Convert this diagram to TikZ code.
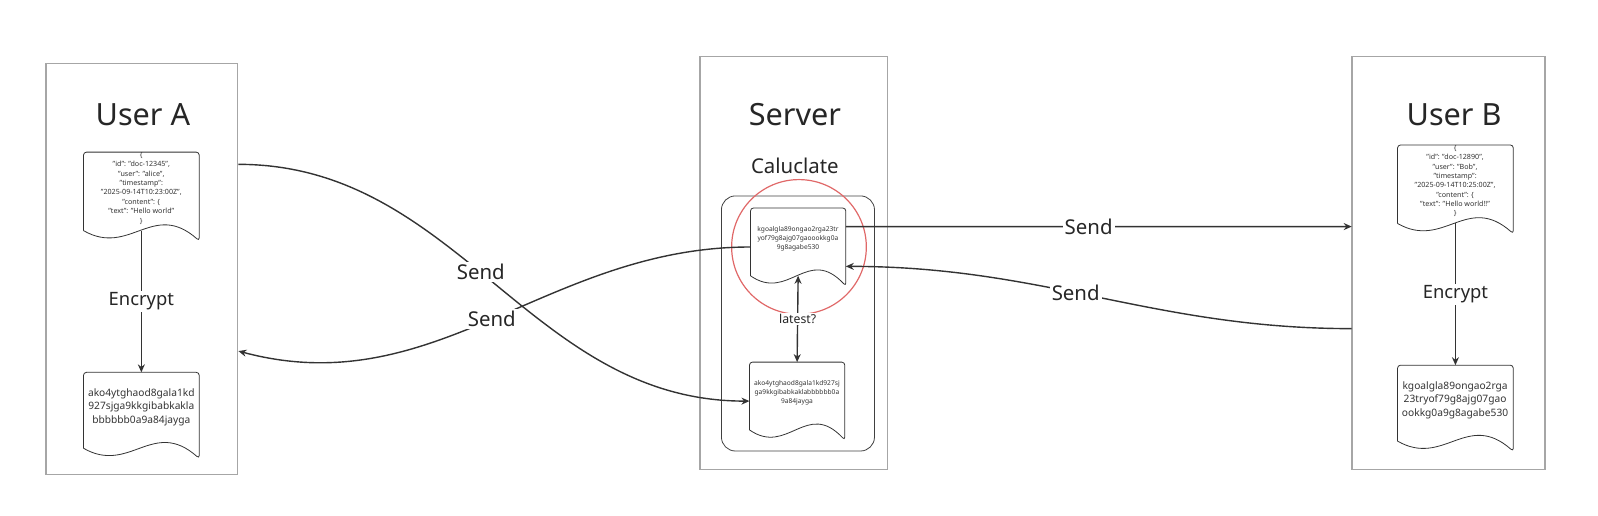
\documentclass[tikz,border=0pt]{standalone}
\usepackage{fontspec}
\setmainfont{Noto Sans}
\usetikzlibrary{calc,arrows.meta}
\definecolor{ringred}{RGB}{224,104,104}

\begin{document}
\begin{tikzpicture}[x=1pt,y=-1pt,
    >={Stealth[length=8pt,width=7pt]},
    panel/.style={draw=black!35, line width=1.2pt, minimum height=405pt},
    title/.style={font=\fontsize{30}{36}\selectfont, text=black!85},
    doc/.style={inner sep=0pt, align=center, text=black!80},
    json/.style={doc, font=\fontsize{7}{9.2}\selectfont, minimum width=113pt, minimum height=69pt},
    code/.style={doc, font=\fontsize{10}{13.3}\selectfont, minimum width=113pt, minimum height=68pt},
    small/.style={doc, font=\fontsize{6.5}{9}\selectfont, minimum width=93pt, minimum height=60pt},
    docline/.style={draw=black!80, line width=0.8pt},
    flow/.style={draw=black!80, line width=1.4pt, ->},
    lbl/.style={fill=white, inner sep=2pt, font=\fontsize{20}{24}\selectfont, text=black!85}]
\useasboundingbox (0,0) rectangle (1598,516);
\begin{scope}[scale=1.0204, transform shape]
\node[panel, minimum width=188pt, minimum height=403pt] (ua) at (139,263.5) {};
\node[panel, minimum width=184pt] (srv) at (778,257.5) {};
\node[panel, minimum width=189pt] (ub) at (1419.5,257.5) {};

\node[title] (tua) at (140,112) {User A};
\node[title] (tsrv) at (779,112) {Server};
\node[title] (tub) at (1425,112) {User B};
\node[font=\fontsize{20}{24}\selectfont, text=black!85] (clc) at (779,163) {Caluclate};

\node[draw=black!75, line width=0.8pt, rounded corners=14pt, minimum width=150pt, minimum height=250pt] (work) at (782,317) {};
\node[draw=ringred, line width=1.2pt, circle, minimum size=132pt] (ring) at (783,242) {};

\node[json] (ajson) at (138.5,184.5) {\{\\"id": "doc-12345",\\"user": "alice",\\"timestamp":\\"2025-09-14T10:23:00Z",\\"content": \{\\"text": "Hello world"\\\}};
\node[code] (acipher) at (138.5,399) {ako4ytghaod8gala1kd\\927sjga9kkgibabkakla\\bbbbbb0a9a84jayga};
\node[small] (stop) at (782,234) {kgoalgla89ongao2rga23tr\\yof79g8ajg07gaoookkg0a\\9g8agabe530};
\node[small] (sbot) at (781,385) {ako4ytghaod8gala1kd927sj\\ga9kkgibabkaklabbbbbb0a\\9a84jayga};
\node[json] (bjson) at (1426,177.5) {\{\\"id": "doc-12890",\\"user": "Bob",\\"timestamp":\\"2025-09-14T10:25:00Z",\\"content": \{\\"text": "Hello world!!"\\\}};
\node[code] (bcipher) at (1426,392) {kgoalgla89ongao2rga\\23tryof79g8ajg07gao\\ookkg0a9g8agabe530};

\foreach \d in {ajson,acipher,stop,sbot,bjson,bcipher}
{
    \draw[docline, rounded corners=3pt] ($(\d.south west)+(0,6)$) -- (\d.north west) -- (\d.north east) -- ($(\d.south east)+(0,16)$) [sharp corners] .. controls ($(\d.south west)!0.6!(\d.south east)+(0,-24)$) and ($(\d.south west)!0.4!(\d.south east)+(0,32)$) .. ($(\d.south west)+(0,6)$);
}

\draw[flow] ([yshift=-6pt]ajson.south) -- node[lbl, font=\fontsize{18}{22}\selectfont]{Encrypt} (acipher.north);
\draw[flow] ([yshift=-6pt]bjson.south) -- node[lbl, font=\fontsize{18}{22}\selectfont]{Encrypt} (bcipher.north);
\draw[flow, <->] ([yshift=-6pt]stop.south) -- node[lbl, font=\fontsize{12}{14}\selectfont, inner sep=1pt]{latest?} (sbot.north);

\draw[flow] ([yshift=-8pt]stop.west) to[out=180, in=-15] node[lbl]{Send} ([yshift=-80.5pt]ua.east);
\draw[flow] ([yshift=102.5pt]ua.east) to[out=0, in=180] node[lbl, pos=0.47]{Send} ([yshift=-8pt]sbot.west);
\draw[flow] ([yshift=12pt]stop.east) -- node[lbl, pos=0.48]{Send} ([yshift=35.5pt]ub.west);
\draw[flow] ([yshift=-64.5pt]ub.west) to[out=180, in=0] node[lbl, pos=0.55]{Send} ([yshift=-27pt]stop.east);
\end{scope}
\end{tikzpicture}
\end{document}
